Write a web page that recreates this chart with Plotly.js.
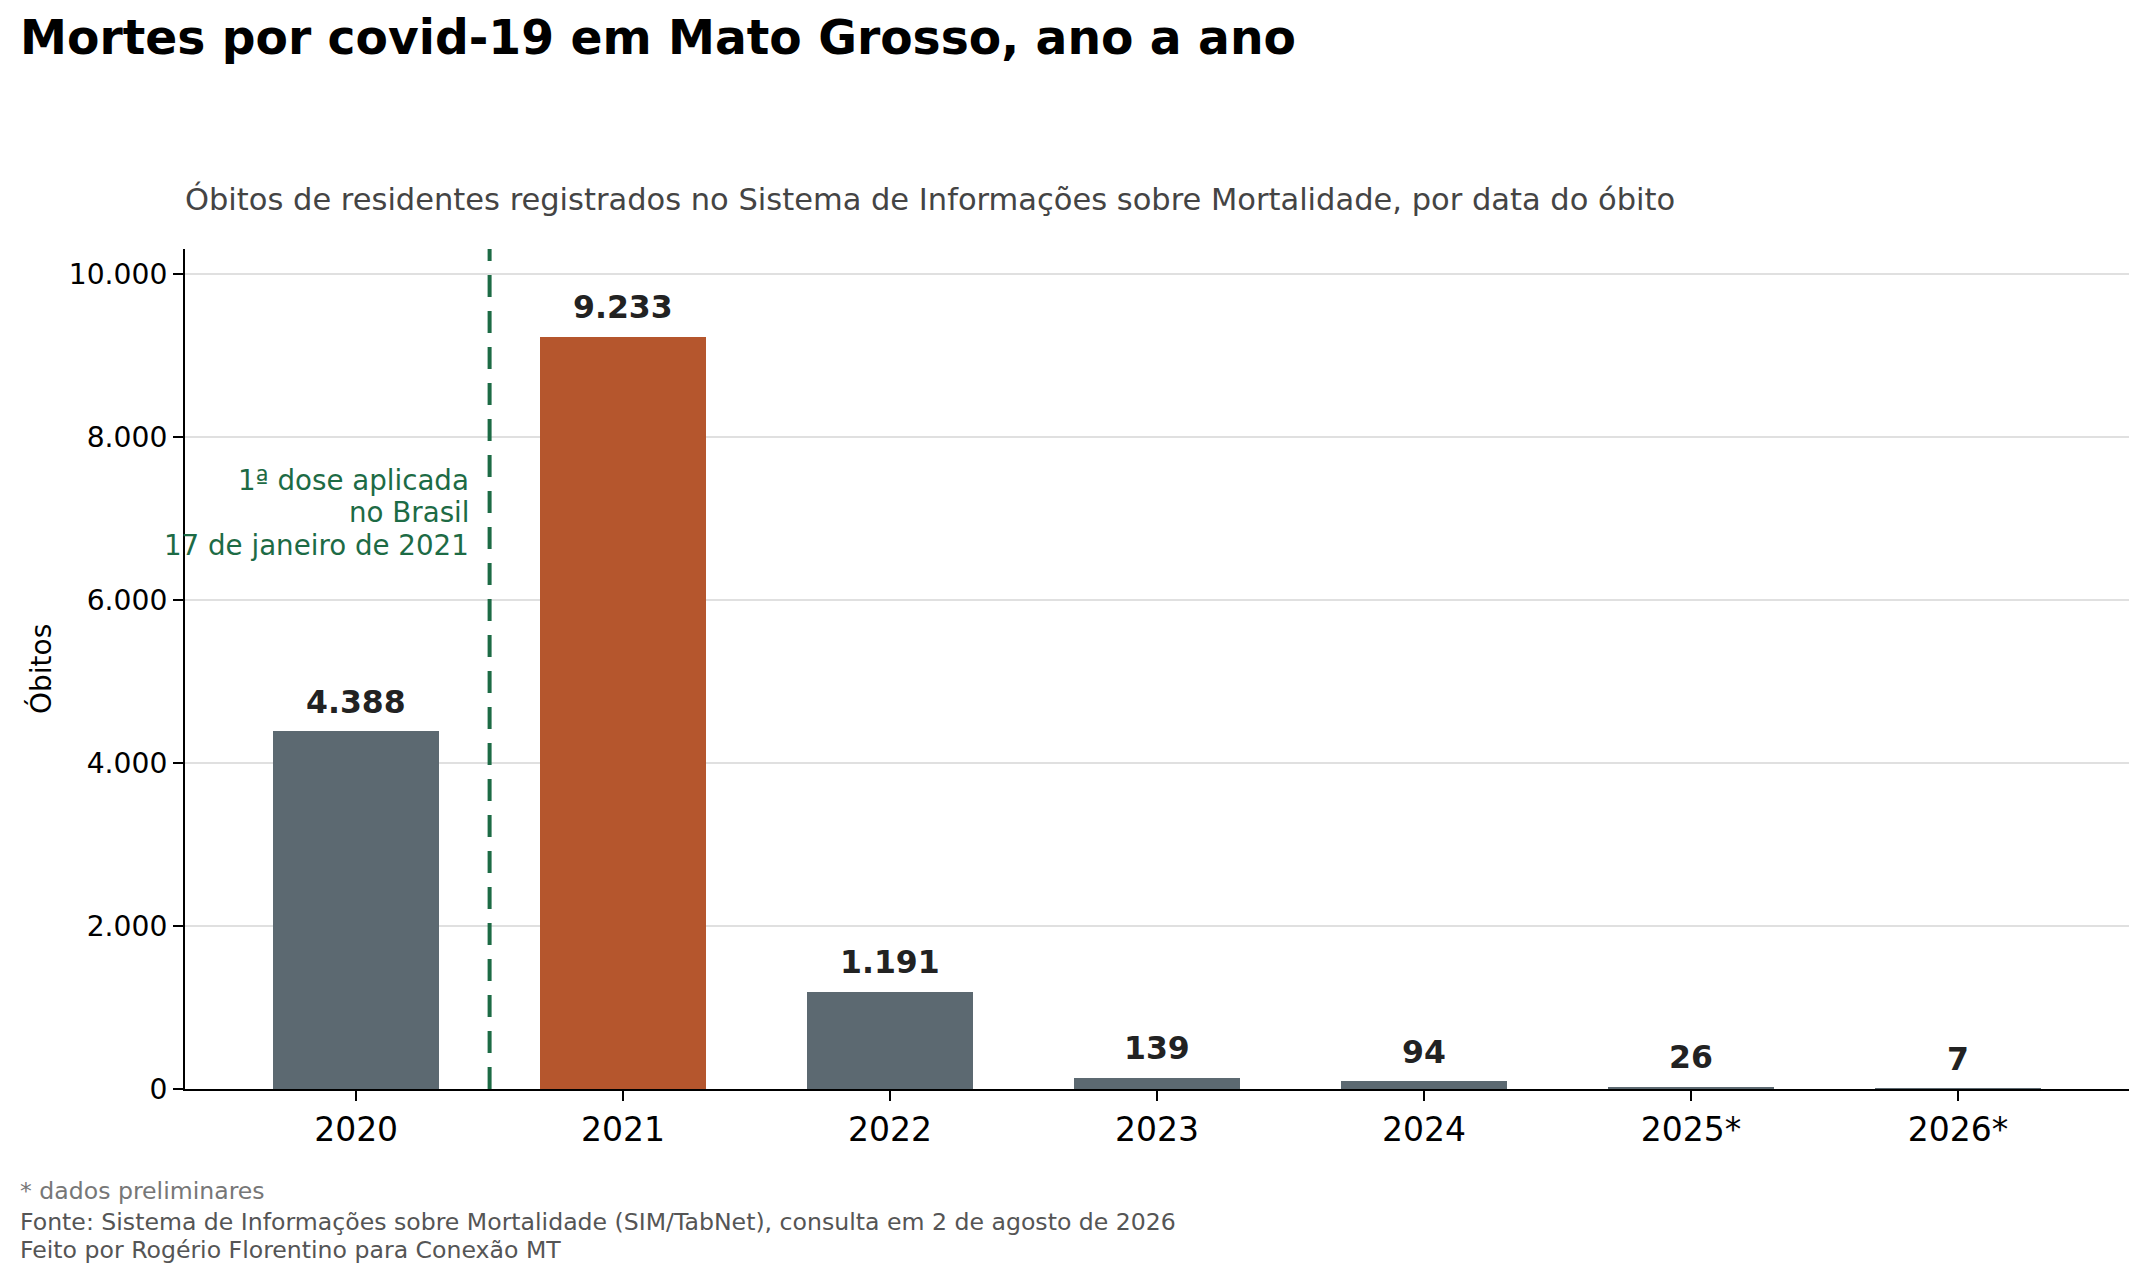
<!DOCTYPE html>
<html>
<head>
<meta charset="utf-8">
<script src="https://cdn.plot.ly/plotly-3.0.1.min.js"></script>
<style>
  html, body { margin: 0; padding: 0; background: #fff; }
  #chart { width: 2148px; height: 1285px; }
</style>
</head>
<body>
<div id="chart"></div>
<script>
// data
const years = ['2020', '2021', '2022', '2023', '2024', '2025*', '2026*'];
const deaths = [4388, 9233, 1191, 139, 94, 26, 7];
const highlightYear = '2021';
const yTicks = [0, 2000, 4000, 6000, 8000, 10000];
const vaccineNote = ['1ª dose aplicada', 'no Brasil', '17 de janeiro de 2021'];
const footerLines = [
    '* dados preliminares',
    'Fonte: Sistema de Informações sobre Mortalidade (SIM/TabNet), consulta em 2 de agosto de 2026',
    'Feito por Rogério Florentino para Conexão MT'
];

const GRAY = '#5c6971';
const ORANGE = '#b5562d';
const GREEN = '#1d6b45';
const FONT = 'DejaVu Sans';

// plot box in pixels
const W = 2148, H = 1285;
const M = { l: 185, r: 19, t: 249, b: 196 };
const plotW = W - M.l - M.r;
const plotH = H - M.t - M.b;
const px = x => (x - M.l) / plotW;
const py = y => (H - M.b - y) / plotH;

function fmt(n) {
    return String(n).replace(/\B(?=(\d{3})+(?!\d))/g, '.');
}

const bars = {
    type: 'bar',
    x: years,
    y: deaths,
    width: 0.62,
    marker: { color: years.map(y => y === highlightYear ? ORANGE : GRAY), line: { width: 0 } },
    hoverinfo: 'x+y'
};

const annotations = [];

// value labels above the bars (x as category index, '2020' would be read as a number)
years.forEach((yr, i) => {
    annotations.push({
        x: i, y: deaths[i], xref: 'x', yref: 'y',
        text: fmt(deaths[i]), showarrow: false,
        xanchor: 'center', yanchor: 'bottom', yshift: 9.6,
        font: { family: FONT, size: 31.5, color: '#222222', weight: 'bold' }
    });
});

// vaccine note, one line each
const noteBase = [491.7, 523, 556];
vaccineNote.forEach((line, i) => {
    annotations.push({
        x: px(470.5), y: py(noteBase[i] + 0.236 * 27.7 + 1), xref: 'paper', yref: 'paper',
        text: line, showarrow: false, xanchor: 'right', yanchor: 'bottom',
        font: { family: FONT, size: 27.7, color: GREEN }
    });
});

// title and subtitle
annotations.push({
    x: px(17.5), y: py(55 + 0.236 * 47.2 + 1), xref: 'paper', yref: 'paper',
    text: '<b>Mortes por covid-19 em Mato Grosso, ano a ano</b>', showarrow: false,
    xanchor: 'left', yanchor: 'bottom',
    font: { family: FONT, size: 47.2, color: '#000000' }
});
annotations.push({
    x: px(183), y: py(211 + 0.236 * 30.5 + 1), xref: 'paper', yref: 'paper',
    text: 'Óbitos de residentes registrados no Sistema de Informações sobre Mortalidade, por data do óbito',
    showarrow: false, xanchor: 'left', yanchor: 'bottom',
    font: { family: FONT, size: 30.5, color: '#444444' }
});

// y axis title
annotations.push({
    x: px(41), y: py(669), xref: 'paper', yref: 'paper',
    text: 'Óbitos', showarrow: false, textangle: -90,
    xanchor: 'center', yanchor: 'middle',
    font: { family: FONT, size: 28, color: '#000000' }
});

// footer
const footerBase = [1200.7, 1231.7, 1259.3];
const footerColor = ['#777777', '#555555', '#555555'];
footerLines.forEach((line, i) => {
    annotations.push({
        x: px(17.5), y: py(footerBase[i] + 0.236 * 23.6 + 1), xref: 'paper', yref: 'paper',
        text: line, showarrow: false, xanchor: 'left', yanchor: 'bottom',
        font: { family: FONT, size: 23.6, color: footerColor[i] }
    });
});

const layout = {
    width: W,
    height: H,
    margin: M,
    paper_bgcolor: '#ffffff',
    plot_bgcolor: '#ffffff',
    separators: ',.',
    showlegend: false,
    font: { family: FONT, color: '#000000' },
    bargap: 0,
    xaxis: {
        type: 'category',
        range: [-0.641, 6.641],
        showgrid: false,
        zeroline: false,
        showline: true, linecolor: '#000000', linewidth: 2,
        ticks: 'outside', ticklen: 10, tickwidth: 2, tickcolor: '#000000',
        tickfont: { family: FONT, size: 33, color: '#000000' },
        fixedrange: true
    },
    yaxis: {
        range: [0, 10310],
        tickvals: yTicks,
        ticktext: yTicks.map(fmt),
        showgrid: true, gridcolor: '#e0e0e0', gridwidth: 2,
        zeroline: false,
        showline: true, linecolor: '#000000', linewidth: 2,
        ticks: 'outside', ticklen: 10, tickwidth: 2, tickcolor: '#000000',
        tickfont: { family: FONT, size: 28.2, color: '#000000' },
        fixedrange: true
    },
    shapes: [{
        type: 'line', xref: 'x', yref: 'paper',
        x0: 0.5, x1: 0.5, y0: 0, y1: 1,
        line: { color: GREEN, width: 4, dash: '22px,14px' }
    }],
    annotations: annotations
};

Plotly.newPlot('chart', [bars], layout, { displayModeBar: false, responsive: false });
</script>
</body>
</html>
